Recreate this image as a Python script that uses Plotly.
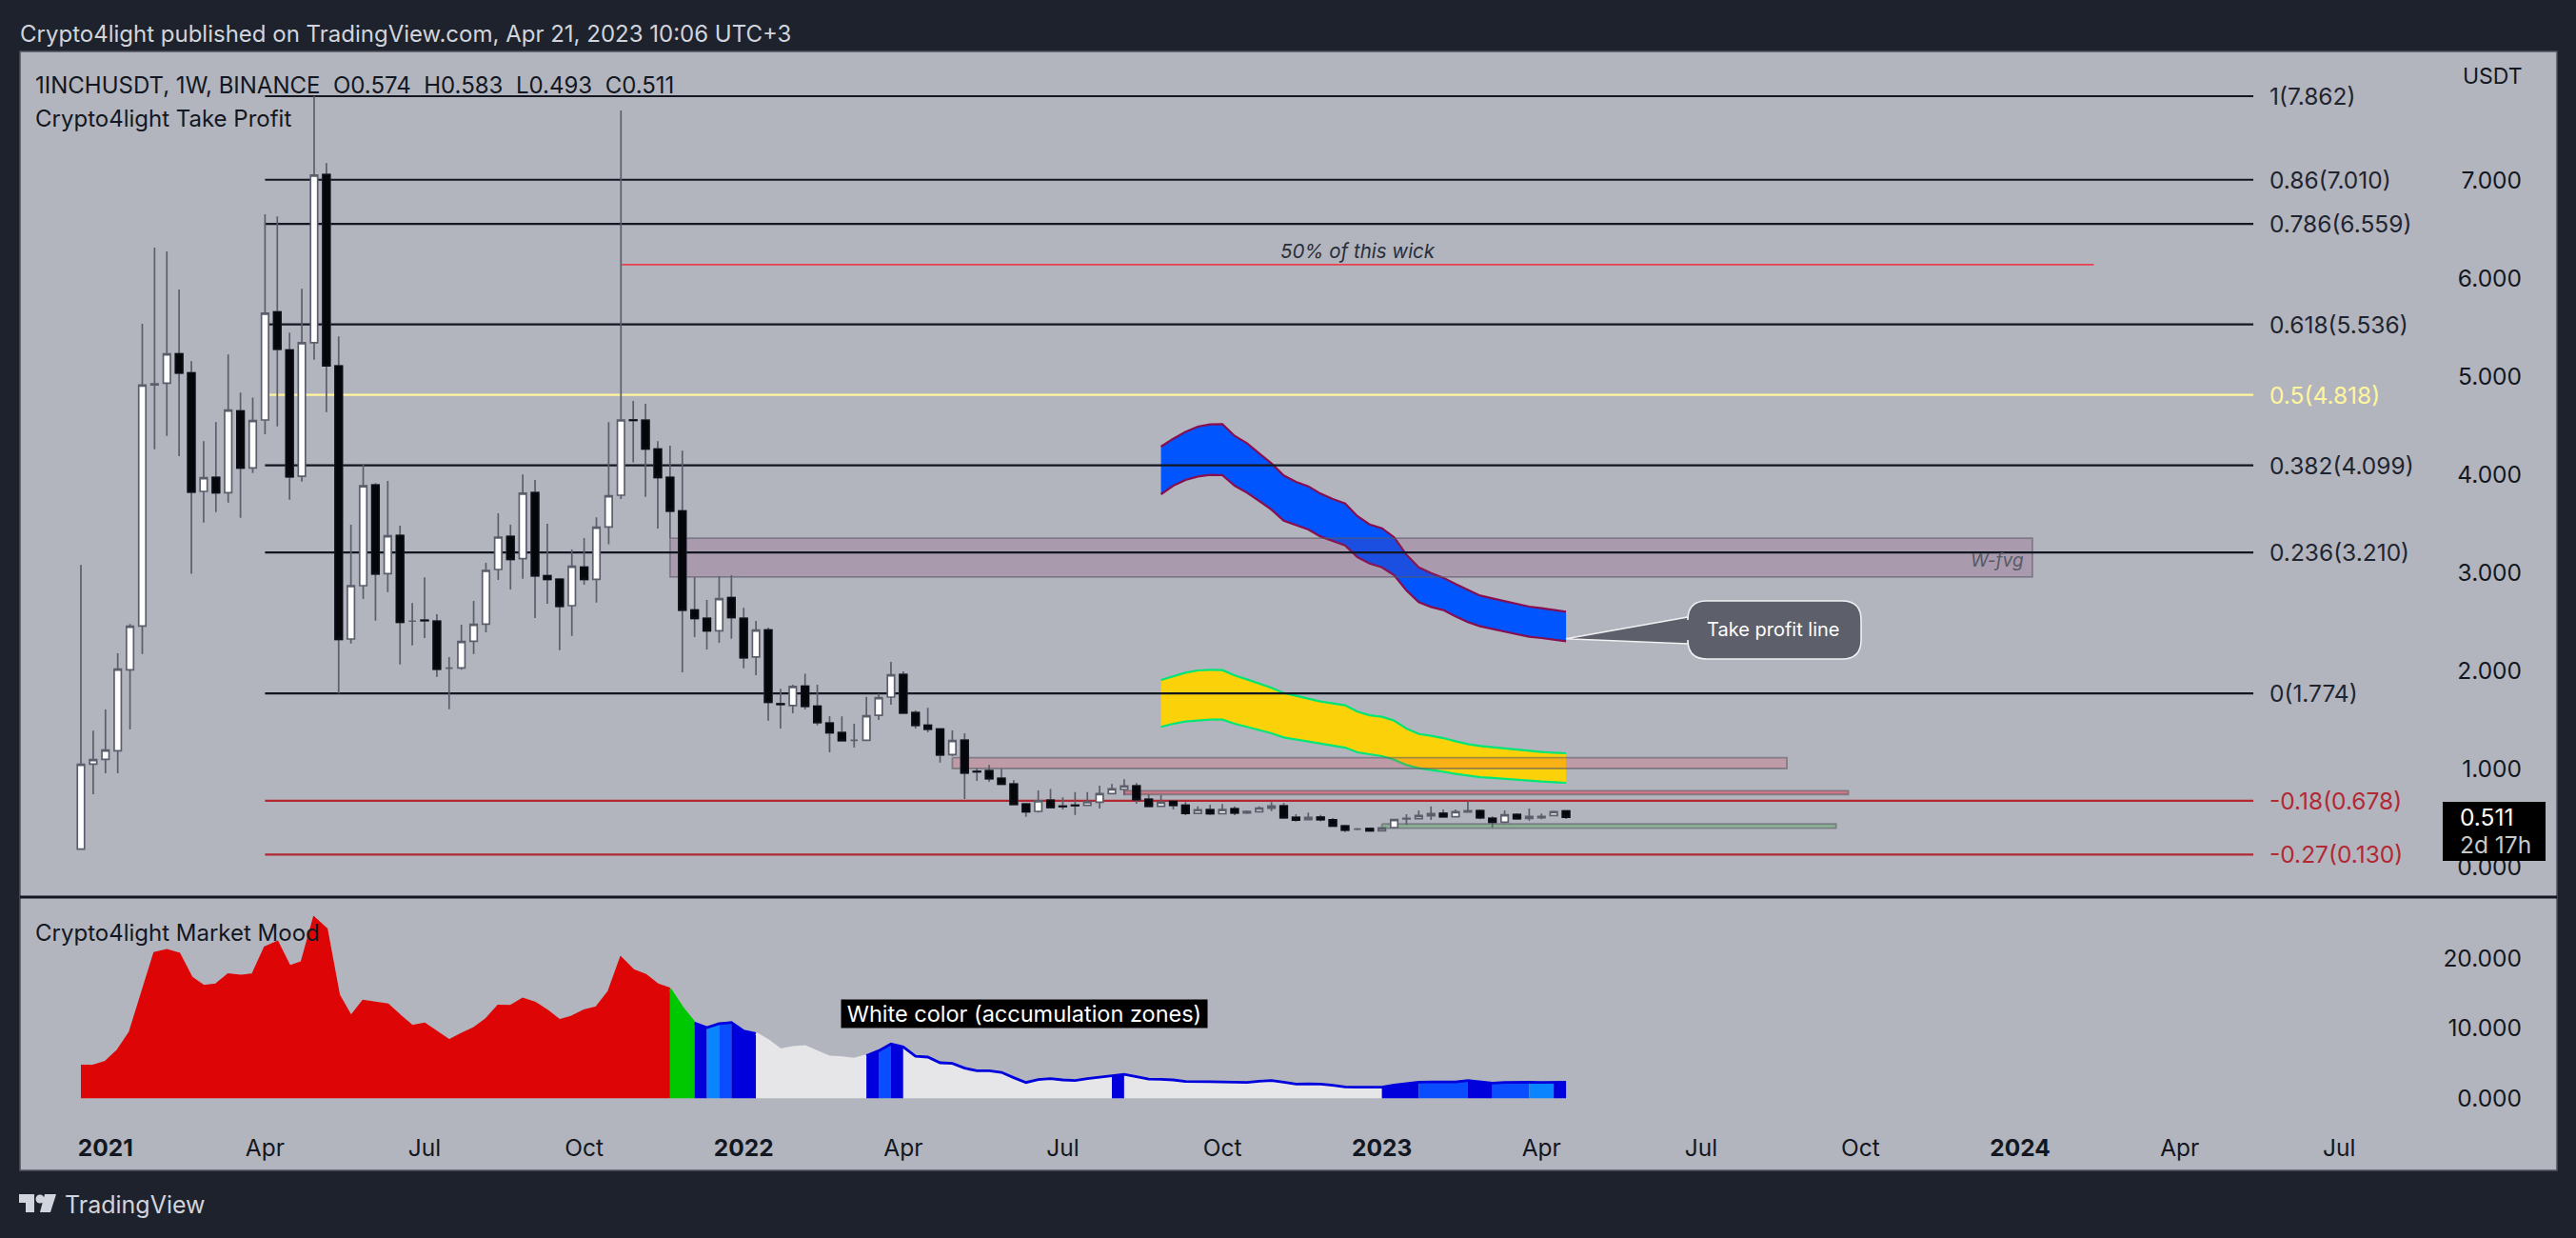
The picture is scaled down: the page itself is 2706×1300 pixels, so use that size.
import pandas as pd
import plotly.graph_objects as go

# ---------- data ----------
week_start = "2020-12-21"
opens = [0.186,1.053,1.102,1.189,2.014,2.461,4.920,4.937,5.235,5.040,3.833,3.975,3.820,4.652,4.073,4.561,5.662,5.273,3.988,5.348,7.063,5.112,2.328,2.872,3.898,2.995,3.383,2.510,2.520,2.510,2.030,2.034,2.305,2.480,3.037,3.373,3.147,3.820,2.972,2.937,2.668,3.060,2.937,3.470,3.794,4.560,4.558,4.263,3.975,3.632,2.623,2.539,2.412,2.749,2.539,2.144,2.419,1.668,1.649,1.846,1.642,1.470,1.374,1.296,1.296,1.551,1.736,1.966,1.577,1.448,1.409,1.150,1.296,0.978,0.985,0.907,0.849,0.645,0.571,0.684,0.623,0.632,0.632,0.665,0.752,0.794,0.830,0.694,0.623,0.671,0.632,0.551,0.587,0.548,0.597,0.555,0.568,0.603,0.626,0.509,0.486,0.512,0.486,0.422,0.390,0.396,0.373,0.406,0.495,0.496,0.526,0.551,0.516,0.564,0.577,0.500,0.461,0.538,0.499,0.506,0.529,0.574]
highs = [3.082,1.393,1.610,2.183,2.480,5.542,6.319,6.280,5.892,5.160,4.344,4.539,5.228,4.840,4.790,6.658,6.636,5.451,5.898,7.862,7.180,5.413,3.493,4.108,3.917,3.940,3.484,2.694,2.956,2.581,2.144,2.474,2.717,3.105,3.610,3.493,4.005,3.950,3.503,2.946,3.241,3.357,3.568,4.539,7.717,4.756,4.726,4.344,4.299,4.247,2.959,2.726,2.969,2.979,2.645,2.513,2.445,1.820,1.862,1.975,1.862,1.542,1.539,1.464,1.739,1.770,2.095,1.998,1.600,1.626,1.409,1.396,1.367,1.011,1.043,1.005,0.888,0.655,0.784,0.800,0.713,0.768,0.768,0.833,0.849,0.898,0.859,0.746,0.736,0.678,0.665,0.623,0.639,0.645,0.623,0.580,0.623,0.665,0.655,0.542,0.558,0.535,0.503,0.435,0.402,0.402,0.406,0.493,0.542,0.580,0.623,0.590,0.590,0.681,0.590,0.520,0.580,0.552,0.600,0.548,0.577,0.583]
lows = [0.186,0.746,0.959,0.959,1.406,2.176,4.263,4.399,4.192,2.992,3.516,3.623,3.720,3.564,4.020,4.416,4.496,3.749,3.933,5.176,4.642,1.772,2.283,2.736,2.516,2.807,2.069,2.263,2.338,1.943,1.613,2.014,2.176,2.396,2.930,2.833,2.943,2.542,2.687,2.215,2.360,2.882,2.700,3.293,3.755,4.128,3.778,3.454,3.357,1.988,2.348,2.221,2.289,2.331,2.030,1.959,1.496,1.416,1.571,1.610,1.448,1.173,1.293,1.221,1.286,1.503,1.658,1.568,1.416,1.377,1.069,1.134,0.697,0.882,0.872,0.843,0.639,0.516,0.558,0.600,0.590,0.535,0.632,0.600,0.746,0.736,0.648,0.623,0.623,0.590,0.532,0.551,0.535,0.548,0.532,0.545,0.558,0.574,0.493,0.467,0.486,0.470,0.422,0.360,0.380,0.370,0.370,0.396,0.435,0.496,0.483,0.510,0.510,0.560,0.490,0.406,0.450,0.485,0.477,0.490,0.520,0.493]
closes = [1.050,1.098,1.196,2.021,2.458,4.917,4.930,5.235,5.040,3.827,3.972,3.820,4.662,4.073,4.555,5.649,5.283,3.982,5.348,7.057,5.112,2.325,2.872,3.891,2.992,3.380,2.500,2.510,2.515,2.021,2.030,2.302,2.477,3.027,3.367,3.140,3.814,2.972,2.937,2.662,3.069,2.937,3.467,3.788,4.561,4.558,4.267,3.975,3.632,2.623,2.539,2.412,2.739,2.548,2.137,2.419,1.684,1.662,1.843,1.642,1.477,1.374,1.293,1.296,1.545,1.729,1.962,1.574,1.448,1.409,1.147,1.293,0.962,0.975,0.904,0.849,0.642,0.568,0.678,0.610,0.620,0.630,0.668,0.752,0.800,0.830,0.691,0.623,0.665,0.632,0.551,0.587,0.548,0.590,0.555,0.571,0.603,0.626,0.506,0.483,0.509,0.486,0.422,0.380,0.390,0.373,0.403,0.487,0.500,0.528,0.548,0.516,0.568,0.577,0.506,0.461,0.535,0.496,0.519,0.519,0.568,0.511]

band_start = 88
blue_upper = [4.289,4.370,4.441,4.493,4.516,4.519,4.399,4.325,4.221,4.118,3.995,3.930,3.885,3.810,3.755,3.710,3.581,3.496,3.458,3.364,3.186,3.059,3.001,2.953,2.888,2.830,2.771,2.742,2.713,2.687,2.658,2.642,2.626,2.606]
blue_lower = [3.804,3.891,3.949,3.985,4.001,3.998,3.891,3.820,3.736,3.648,3.535,3.487,3.445,3.373,3.325,3.283,3.163,3.098,3.059,2.979,2.823,2.704,2.655,2.623,2.558,2.500,2.458,2.428,2.403,2.377,2.351,2.338,2.322,2.305]
gold_upper = [1.911,1.949,1.985,2.008,2.014,2.011,1.956,1.917,1.875,1.830,1.778,1.749,1.723,1.691,1.671,1.652,1.587,1.551,1.535,1.496,1.415,1.360,1.341,1.318,1.286,1.257,1.237,1.225,1.212,1.199,1.186,1.176,1.170,1.163]
gold_lower = [1.432,1.464,1.487,1.500,1.506,1.506,1.464,1.432,1.399,1.367,1.325,1.305,1.286,1.260,1.244,1.221,1.173,1.150,1.134,1.098,1.043,1.011,0.995,0.975,0.953,0.933,0.920,0.911,0.901,0.891,0.882,0.875,0.869,0.862]

mood = [4.63,4.63,5.17,6.80,9.44,15.20,20.75,21.16,20.66,17.25,16.02,16.25,17.70,17.48,17.70,21.57,22.34,18.84,19.43,25.79,24.20,14.75,11.66,13.89,13.62,13.39,11.80,10.30,10.62,9.44,8.26,9.17,9.98,11.26,13.21,13.16,14.21,13.62,12.48,11.12,11.66,12.53,12.98,15.20,20.07,18.30,17.61,16.25,15.62,12.94,10.76,10.12,10.67,10.85,9.62,9.26,8.26,6.94,7.26,7.40,6.67,5.90,5.81,5.62,6.08,6.80,7.76,7.35,6.03,5.90,5.08,4.99,4.31,3.94,3.94,3.72,2.95,2.26,2.67,2.81,2.63,2.54,2.81,2.99,3.26,3.44,3.08,2.76,2.72,2.63,2.40,2.35,2.35,2.35,2.31,2.26,2.44,2.54,2.31,2.04,2.08,2.04,1.86,1.63,1.58,1.58,1.58,1.90,2.13,2.31,2.35,2.35,2.35,2.54,2.35,2.17,2.26,2.31,2.31,2.26,2.26,2.31]
# bar index where each colour run starts / ends, with zone name
mood_zones = [(0,48,"red"),(48,50,"green"),(50,51,"deep"),(51,52,"sky"),(52,53,"blue"),(53,55,"deep"),(55,64,"white"),(64,65,"deep"),(65,66,"blue"),(66,67,"deep"),(67,84,"white"),(84,85,"deep"),(85,106,"white"),(106,109,"deep"),(109,113,"blue"),(113,115,"deep"),(115,118,"blue"),(118,120,"sky"),(120,121,"deep")]
mood_line_zones = [(0,48,"red"),(48,50,"green"),(50,55,"deep"),(55,64,"white"),(64,121,"deep")]

fib_ratio = ["1","0.86","0.786","0.618","0.5","0.382","0.236","0","-0.18","-0.27"]
fib_price = [7.862,7.010,6.559,5.536,4.818,4.099,3.210,1.774,0.678,0.130]
fib_kind = ["ink","ink","ink","ink","gold","ink","ink","ink","loss","loss"]
fib_from, fib_to = 15, 177

price_ticks = [0,1,2,3,4,5,6,7]
mood_ticks = [0,10,20]
time_tick_dates = ["2021-01-04","2021-04-05","2021-07-05","2021-10-04","2022-01-03","2022-04-04","2022-07-04","2022-10-03","2023-01-02","2023-04-03","2023-07-03","2023-10-02","2024-01-01","2024-04-01","2024-07-01"]
time_tick_text = ["<b>2021</b>","Apr","Jul","Oct","<b>2022</b>","Apr","Jul","Oct","<b>2023</b>","Apr","Jul","Oct","<b>2024</b>","Apr","Jul"]

# rectangles: first bar, last bar, top price, bottom price
fvg_box = (48,159,3.357,2.960)
red_box = (71,139,1.118,1.008)
thin_box = (85,144,0.781,0.743)
green_box = (106,143,0.442,0.399)
wick_line = (44,164,6.144)

# ---------- page geometry ----------
W, H = 2706, 1300
BAR0, BAR_W = 85.0, 12.893
L, R = 21, 2652
FONT = "Inter"
INK = "#131722"
px = lambda v: v / W
py = lambda v: 1 - v / H
weeks = pd.date_range(week_start, periods=200, freq="7D")
t0 = pd.Timestamp(week_start)
bar_date = lambda i: t0 + pd.Timedelta(days=7 * i)
px_date = lambda p: t0 + pd.Timedelta(days=7 * (p - BAR0) / BAR_W)
dates = weeks[:len(opens)]
price_y = lambda p: (910.8 - p) / 103.0
mood_y = lambda p: (1153.3 - p) / 7.34
COL = {"ink": INK, "gold": "#fff59d", "loss": "#b22833",
       "red": "#dd0505", "green": "#00c800", "deep": "#0000dd", "blue": "#0a4dff",
       "sky": "#0a84ff", "white": "#e6e6e8"}

fig = go.Figure()

def band(up, lo, fill, edge):
    x = list(dates[band_start:])
    fig.add_trace(go.Scatter(x=x + x[::-1], y=up + lo[::-1], fill="toself", fillcolor=fill,
                             mode="none", hoverinfo="skip", showlegend=False))
    for s in (up, lo):
        fig.add_trace(go.Scatter(x=x, y=s, mode="lines", line=dict(color=edge, width=2.2),
                                 hoverinfo="skip", showlegend=False))

band(blue_upper, blue_lower, "#0055ff", "#880e4f")
band(gold_upper, gold_lower, "#fbd10a", "#00e676")

def box(b, fill):
    a, c, t, d = b
    xa, xc = bar_date(a), bar_date(c)
    fig.add_trace(go.Scatter(x=[xa, xc, xc, xa, xa], y=[t, t, d, d, t], mode="lines", fill="toself",
                             fillcolor=fill, line=dict(color="rgba(90,90,100,0.55)", width=1.8),
                             hoverinfo="skip", showlegend=False))

box(fvg_box, "rgba(133,56,105,0.2)")
box(red_box, "rgba(242,54,69,0.2)")
box(thin_box, "rgba(242,54,69,0.45)")
box(green_box, "rgba(76,175,80,0.35)")

for lvl, kind in zip(fib_price, fib_kind):
    fig.add_trace(go.Scatter(x=[bar_date(fib_from), bar_date(fib_to)], y=[lvl, lvl], mode="lines",
                             line=dict(color=COL[kind], width=2.2), hoverinfo="skip", showlegend=False))
fig.add_trace(go.Scatter(x=[bar_date(wick_line[0]), bar_date(wick_line[1])], y=[wick_line[2]] * 2, mode="lines",
                         line=dict(color="#e8404f", width=1.8), hoverinfo="skip", showlegend=False))

# candles sit on an overlaying y axis so they draw above the levels
WICK = "#5c5f6b"
fig.add_trace(go.Candlestick(x=dates, open=opens, high=highs, low=lows, close=closes, yaxis="y3",
                             increasing=dict(fillcolor="#ffffff", line=dict(color=WICK, width=1.7)),
                             decreasing=dict(fillcolor="#05060a", line=dict(color=WICK, width=1.7)),
                             hoverinfo="skip", showlegend=False))
dn = [i for i in range(len(opens)) if closes[i] < opens[i]]
fig.add_trace(go.Candlestick(x=[dates[i] for i in dn], open=[opens[i] for i in dn],
                             high=[opens[i] for i in dn], low=[closes[i] for i in dn],
                             close=[closes[i] for i in dn], yaxis="y3",
                             increasing=dict(fillcolor="#05060a", line=dict(color="#0b0d14", width=1.7)),
                             decreasing=dict(fillcolor="#05060a", line=dict(color="#0b0d14", width=1.7)),
                             hoverinfo="skip", showlegend=False))

# market mood
for a, b, z in mood_zones:
    fig.add_trace(go.Scatter(x=dates[a:b + 1], y=mood[a:b + 1], xaxis="x2", yaxis="y2", fill="tozeroy",
                             fillcolor=COL[z], mode="none", hoverinfo="skip", showlegend=False))
for a, b, z in mood_line_zones:
    fig.add_trace(go.Scatter(x=dates[a:b + 1], y=mood[a:b + 1], xaxis="x2", yaxis="y2", mode="lines",
                             line=dict(color=COL[z], width=2.8), hoverinfo="skip", showlegend=False))

# ---------- panel furniture ----------
def pth(points, close=True):
    return "M" + " L".join(f"{px(a):.5f},{py(b):.5f}" for a, b in points) + (" Z" if close else "")

shapes = [
    dict(type="rect", xref="paper", yref="paper", x0=px(21), x1=px(2686), y0=py(1229), y1=py(54),
         fillcolor="#b2b5be", line=dict(color="#50535e", width=1.5), layer="below"),
    dict(type="line", xref="paper", yref="paper", x0=px(21), x1=px(2686), y0=py(942), y1=py(942),
         line=dict(color=INK, width=3), layer="above"),
    dict(type="rect", xref="paper", yref="paper", x0=px(2566), x1=px(2674), y0=py(904), y1=py(842),
         fillcolor="#000000", line=dict(width=0), layer="above"),
]
# callout
x0c, x1c, y0c, y1c, r = 1773, 1955, 631, 692, 20
tip = (1645, 670.7)
c = (f"M{px(x0c+r):.5f},{py(y0c):.5f} L{px(x1c-r):.5f},{py(y0c):.5f} "
     f"Q{px(x1c):.5f},{py(y0c):.5f} {px(x1c):.5f},{py(y0c+r):.5f} L{px(x1c):.5f},{py(y1c-r):.5f} "
     f"Q{px(x1c):.5f},{py(y1c):.5f} {px(x1c-r):.5f},{py(y1c):.5f} L{px(x0c+r):.5f},{py(y1c):.5f} "
     f"Q{px(x0c):.5f},{py(y1c):.5f} {px(x0c):.5f},{py(y1c-r):.5f} L{px(x0c):.5f},{py(676):.5f} "
     f"L{px(tip[0]):.5f},{py(tip[1]):.5f} L{px(x0c):.5f},{py(648):.5f} L{px(x0c):.5f},{py(y0c+r):.5f} "
     f"Q{px(x0c):.5f},{py(y0c):.5f} {px(x0c+r):.5f},{py(y0c):.5f} Z")
shapes.append(dict(type="path", xref="paper", yref="paper", path=c, fillcolor="#5d5f6a",
                   line=dict(color="#f0f0f2", width=1.6), layer="above"))
# logo
LOGO = "#d1d4dc"
for poly in ([(20, 1254), (36, 1254), (36, 1273), (27, 1273), (27, 1263), (20, 1263)],
             [(47, 1254), (59, 1254), (53, 1273), (42, 1273)]):
    shapes.append(dict(type="path", xref="paper", yref="paper", path=pth(poly), fillcolor=LOGO,
                       line=dict(width=0), layer="above"))
shapes.append(dict(type="circle", xref="paper", yref="paper", x0=px(37.5), x1=px(46.5), y0=py(1263.5), y1=py(1254.5),
                   fillcolor=LOGO, line=dict(width=0), layer="above"))

def note(x, y, text, size=22, color=INK, anchor="left", italic=False, **kw):
    if italic:
        text = f"<i>{text}</i>"
    return dict(xref="paper", yref="paper", x=px(x), y=py(y), text=text, showarrow=False,
                xanchor=anchor, yanchor="middle", font=dict(family=FONT, size=size, color=color),
                borderpad=0, **kw)

anns = [
    note(20, 35, "Crypto4light published on TradingView.com, Apr 21, 2023 10:06 UTC+3", 24, "#d1d4dc"),
    note(36, 90, "1INCHUSDT, 1W, BINANCE&nbsp;&nbsp;O0.574&nbsp;&nbsp;H0.583&nbsp;&nbsp;L0.493&nbsp;&nbsp;C0.511", 24),
    note(36, 124, "Crypto4light Take Profit", 24),
    note(36, 979, "Crypto4light Market Mood", 24),
    note(67, 1265, "TradingView", 25, "#d1d4dc"),
    note(2586, 80, "USDT", 23),
    note(2583, 858, "0.511", 24.5, "#ffffff"),
    note(2583, 887, "2d 17h", 24.5, "#c8c8c8"),
    note(1863, 661, "Take profit line", 20, "#ffffff", "center"),
    note(1426, 264, "50% of this wick", 20.5, "#2a2e39", "center", True),
    note(2127, 588, "W-fvg", 19, "#565a66", "right", True),
    note(1076, 1064, "White color (accumulation zones)", 23.5, "#ffffff", "center",
         bgcolor="#000000", width=384, height=29, align="center"),
]
for ratio, lvl, kind in zip(fib_ratio, fib_price, fib_kind):
    anns.append(note(2383, 910.8 - 103 * lvl, f"{ratio}({lvl:.3f})", 24.5, COL[kind] if kind != "ink" else "#1f2430"))

tick_font = dict(family=FONT, size=24.5, color=INK)
x_range = [px_date(L), px_date(R)]
main_y = dict(domain=[py(941), py(54)], range=[price_y(941), price_y(54)], side="right", showgrid=False, zeroline=False,
              tickvals=price_ticks, ticktext=[f"{v:.3f}" for v in price_ticks], tickfont=tick_font,
              ticklabelposition="inside", ticks="", showline=False, anchor="x")
fig.update_layout(
    width=W, height=H, autosize=False, margin=dict(l=0, r=0, t=0, b=0, pad=0),
    paper_bgcolor="#1e222d", plot_bgcolor="rgba(0,0,0,0)", showlegend=False, hovermode=False,
    boxgap=0.3, boxgroupgap=0.17, boxmode="overlay", dragmode=False,
    xaxis=dict(domain=[px(L), px(R)], range=x_range, type="date", anchor="y", showgrid=False, zeroline=False,
               showticklabels=False, ticks="", showline=False, rangeslider=dict(visible=False)),
    xaxis2=dict(domain=[px(L), px(R)], range=x_range, type="date", anchor="y2", showgrid=False, zeroline=False,
                tickmode="array", tickvals=time_tick_dates, ticktext=time_tick_text, tickfont=tick_font,
                ticks="", showline=False, ticklabelstandoff=0, rangeslider=dict(visible=False)),
    yaxis=main_y,
    yaxis3=dict(overlaying="y", range=main_y["range"], side="right", visible=False, anchor="x"),
    yaxis2=dict(domain=[py(1188), py(943)], range=[mood_y(1188), mood_y(943)], side="right", showgrid=False, zeroline=False,
                tickvals=mood_ticks, ticktext=[f"{v:.3f}" for v in mood_ticks], tickfont=tick_font,
                ticklabelposition="inside", ticks="", showline=False, anchor="x2"),
    shapes=shapes, annotations=anns,
)
fig.write_html("out.html", config=dict(displayModeBar=False),
               post_script="document.body.style.margin='0';document.body.style.overflow='hidden';")
